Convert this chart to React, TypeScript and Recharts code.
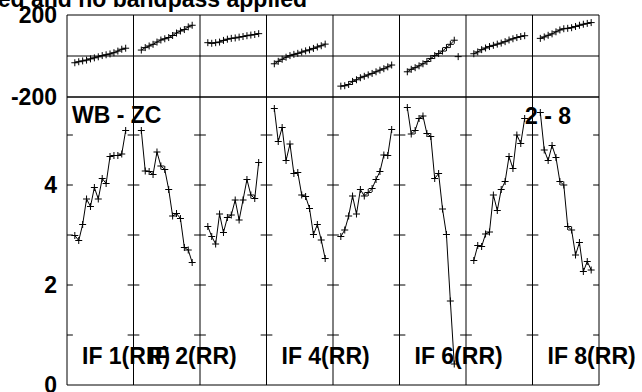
import React from 'react';
import { LineChart, Line, XAxis, YAxis, ReferenceLine } from 'recharts';

// channels plotted inside every IF panel
const CHANNELS = [2, 3, 4, 5, 6, 7, 8, 9, 10, 11, 12, 13, 14, 15];
const CHANNEL_TICKS = [5, 10, 15];
const PANEL_SPAN = 17;
const PANEL_COUNT = 8;

// amplitude per IF (ch 2..15)
const AMP_IF1 = [2.99, 2.89, 3.21, 3.72, 3.57, 3.95, 3.72, 4.13, 4.03, 4.57, 4.59, 4.59, 4.62, 5.09];
const AMP_IF2 = [5.09, 4.28, 4.27, 4.21, 4.66, 4.38, 4.31, 3.91, 3.38, 3.43, 3.33, 2.75, 2.7, 2.45];
const AMP_IF3 = [3.17, 2.97, 2.82, 3.42, 3.05, 3.35, 3.4, 3.7, 3.3, 3.7, 4.11, 3.8, 3.73, 4.45];
const AMP_IF4 = [5.53, 4.87, 5.15, 4.49, 4.82, 4.23, 4.25, 3.8, 3.77, 3.53, 3.01, 3.21, 2.9, 2.53];
const AMP_IF5 = [2.97, 3.1, 3.38, 3.78, 3.42, 3.91, 3.78, 3.85, 3.93, 4.11, 4.27, 4.6, 4.59, 5.11];
const AMP_IF6 = [5.55, 5.02, 5.09, 5.33, 5.38, 5.03, 4.97, 4.13, 4.23, 3.52, 3.01, 1.68, 0.42, null];
const AMP_IF7 = [2.49, 2.79, 2.77, 3.02, 3.06, 3.8, 3.49, 3.91, 4.07, 4.57, 4.33, 5.0, 4.83, 5.33];
const AMP_IF8 = [5.45, 4.7, 4.49, 4.79, 4.55, 4.07, 4.0, 3.17, 3.1, 2.6, 2.85, 2.27, 2.47, 2.3];

// phase per IF (degrees)
const PHASE_IF1 = [-33, -28, -24, -20, -14, -9, -4, 2, 6, 10, 16, 24, 33, 38];
const PHASE_IF2 = [29, 41, 49, 57, 68, 78, 84, 90, 100, 112, 122, 129, 142, 150];
const PHASE_IF3 = [65, 62, 65, 68, 76, 82, 86, 88, 92, 95, 99, 102, 105, 109];
const PHASE_IF4 = [-38, -26, -16, -6, 2, 8, 13, 19, 25, 30, 37, 44, 50, 58];
const PHASE_IF5 = [-147, -145, -139, -124, -116, -106, -99, -92, -85, -77, -69, -62, -53, -44];
const PHASE_IF6 = [-77, -65, -57, -48, -38, -27, -12, 2, 12, 24, 41, 57, 77, null];
const PHASE_IF7 = [11, 20, 31, 39, 46, 52, 58, 63, 70, 78, 84, 90, 95, 99];
const PHASE_IF8 = [86, 93, 101, 108, 118, 127, 133, 135, 138, 144, 150, 155, 159, 163];

// lone point not joined to its neighbours (IF 6, ch 15)
const FLAGGED_PANEL = 5;
const FLAGGED_CHANNEL = 15;
const FLAGGED_PHASE = -3;

const AMPS = [AMP_IF1, AMP_IF2, AMP_IF3, AMP_IF4, AMP_IF5, AMP_IF6, AMP_IF7, AMP_IF8];
const PHASES = [PHASE_IF1, PHASE_IF2, PHASE_IF3, PHASE_IF4, PHASE_IF5, PHASE_IF6, PHASE_IF7, PHASE_IF8];

const PHASE_TICKS = [-200, 200];
const AMP_TICKS = [0, 2, 4];
const AMP_MINOR = [1, 2, 3, 4, 5];

const TITLE = 'ed and no bandpass applied';
const BASELINE_LABEL = 'WB - ZC';
const UV_LABEL = '2 - 8';
const PANEL_LABELS = ['IF 1(RR)', 'IF 2(RR)', 'IF 4(RR)', 'IF 6(RR)', 'IF 8(RR)'];
const PANEL_LABEL_AT = [0, 1, 3, 5, 7];

const FONT = "'Liberation Sans', Arial, sans-serif";
const tickFont = { fontFamily: FONT, fontSize: 23, fontWeight: 700, fill: '#000' };

const rows: any[] = [];
AMPS.forEach((amps, i) => {
  CHANNELS.forEach((ch, j) => {
    const row: any = { x: i * PANEL_SPAN + ch };
    row[`a${i}`] = amps[j];
    row[`p${i}`] = PHASES[i][j];
    if (i === FLAGGED_PANEL && ch === FLAGGED_CHANNEL) row.flag = FLAGGED_PHASE;
    rows.push(row);
  });
});

const xTicks: number[] = [];
for (let i = 0; i < PANEL_COUNT; i++) CHANNEL_TICKS.forEach((t) => xTicks.push(i * PANEL_SPAN + t));
const dividers = Array.from({ length: PANEL_COUNT }, (_, k) => (k + 1) * PANEL_SPAN);
const xMax = PANEL_COUNT * PANEL_SPAN;

const renderCross = (props: any) => {
  const { cx, cy, index, value } = props;
  const k = `c-${props.dataKey}-${index}`;
  if (cx == null || cy == null || value == null || Number.isNaN(cy)) return <g key={k} />;
  return (
    <path key={k} d={`M${cx - 3.5},${cy}h7M${cx},${cy - 3.5}v7`} stroke="#000" strokeWidth={1} fill="none" />
  );
};

const series = (prefix: string) =>
  AMPS.map((_, i) => (
    <Line
      key={`${prefix}${i}`}
      dataKey={`${prefix}${i}`}
      type="linear"
      stroke="#000"
      strokeWidth={1}
      dot={renderCross}
      activeDot={false}
      isAnimationActive={false}
    />
  ));

const xAxes = (tick: number) => [
  <XAxis key="xb" dataKey="x" type="number" domain={[0, xMax]} ticks={xTicks} height={1} mirror tick={false} tickSize={tick} stroke="#000" />,
  <XAxis key="xt" xAxisId="top" dataKey="x" type="number" domain={[0, xMax]} ticks={xTicks} orientation="top" height={1} mirror tick={false} tickSize={tick} stroke="#000" />,
];

const App: React.FC = () => {
  return (
    <div style={{ position: 'absolute', left: 0, top: 0, width: 642, height: 392, overflow: 'hidden', background: '#fff' }}>
      <div style={{ position: 'absolute', left: 0, top: 0 }}>
        <LineChart width={642} height={112} data={rows} margin={{ top: 15, right: 43, bottom: 15, left: 0 }}>
          {xAxes(3)}
          <YAxis type="number" domain={[-200, 200]} ticks={PHASE_TICKS} width={67} tickLine={false} tickMargin={4} tick={tickFont} stroke="#000" interval={0} />
          <ReferenceLine y={0} stroke="#000" />
          {dividers.map((d) => (
            <ReferenceLine key={d} x={d} stroke="#000" />
          ))}
          {series('p')}
          <Line dataKey="flag" stroke="none" dot={renderCross} activeDot={false} isAnimationActive={false} />
        </LineChart>
      </div>
      <div style={{ position: 'absolute', left: 0, top: 90 }}>
        <LineChart width={642} height={302} data={rows} margin={{ top: 7, right: 43, bottom: 7, left: 0 }}>
          {xAxes(5)}
          <YAxis type="number" domain={[0, 5.76]} ticks={AMP_TICKS} width={67} tickLine={false} tickMargin={4} tick={tickFont} stroke="#000" interval={0} />
          {dividers.map((d) => (
            <ReferenceLine key={d} x={d} stroke="#000" />
          ))}
          {[0, ...dividers].map((d) =>
            AMP_MINOR.map((v) => (
              <ReferenceLine
                key={`m${d}-${v}`}
                segment={[
                  { x: d === 0 ? d : d - 1.5, y: v },
                  { x: d === xMax ? d : d + 1.5, y: v },
                ]}
                stroke="#000"
              />
            ))
          )}
          {series('a')}
        </LineChart>
      </div>
      <svg width={642} height={392} style={{ position: 'absolute', left: 0, top: 0, pointerEvents: 'none' }}>
        <g fontFamily={FONT} fontSize={23} fontWeight={700} fill="#000">
          <text x={307} y={7} textAnchor="end">{TITLE}</text>
          <text x={72} y={123}>{BASELINE_LABEL}</text>
          <text x={525} y={124}>{UV_LABEL}</text>
          {PANEL_LABELS.map((label, i) => (
            <text key={label} x={67 + PANEL_LABEL_AT[i] * 66.5 + 15} y={364}>
              {label}
            </text>
          ))}
        </g>
      </svg>
    </div>
  );
};

export default App;
